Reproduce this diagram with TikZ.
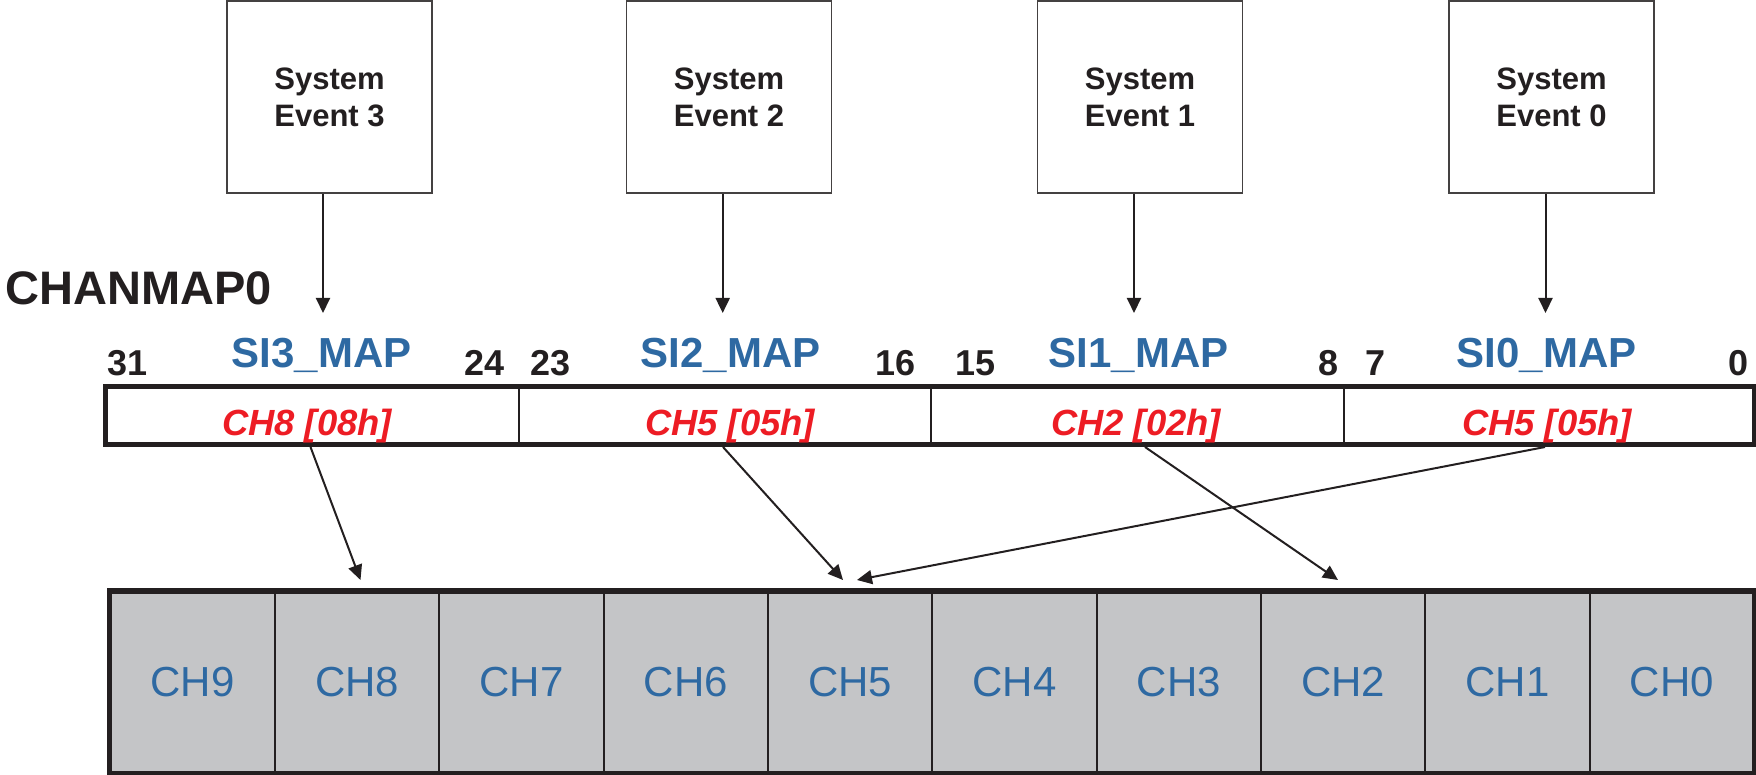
\documentclass[tikz,border=0pt]{standalone}
\usepackage{fontspec}
\setmainfont{Liberation Sans}
\usetikzlibrary{arrows.meta}
\definecolor{inkblack}{RGB}{35,31,32}
\definecolor{mapblue}{RGB}{46,105,162}
\definecolor{valred}{RGB}{237,28,36}
\definecolor{cellgray}{RGB}{196,197,199}

\begin{document}
\begin{tikzpicture}[x=0.5pt,y=-0.5pt,
  evbox/.style={draw=inkblack!85, line width=0.75pt, minimum width=102.5pt,
    minimum height=96pt, inner sep=0pt, align=center,
    font=\fontsize{15.5}{18.5}\selectfont\bfseries, text=inkblack},
  arr/.style={draw=inkblack, line width=1pt, -{Triangle[length=7.5pt,width=7pt]}},
  fieldname/.style={anchor=base, inner sep=0pt, text=mapblue,
    font=\fontsize{21}{21}\selectfont\bfseries},
  bitnum/.style={inner sep=0pt, text=inkblack, font=\fontsize{18}{18}\selectfont\bfseries},
  fieldval/.style={anchor=base, inner sep=0pt, text=valred,
    font=\fontsize{18.2}{18.2}\selectfont\bfseries\itshape},
  field/.style={draw=inkblack, line width=1pt, fill=white, minimum height=28pt, inner sep=0pt},
  chcell/.style={draw=inkblack, line width=1pt, fill=cellgray, minimum width=82.175pt,
    minimum height=90.25pt, inner sep=0pt, text=mapblue, font=\fontsize{21}{21}\selectfont},
]
\useasboundingbox (0,0) rectangle (1756,775);

% system event sources
\node[evbox] (ev3) at (329.5,97) {System\\Event 3};
\node[evbox] (ev2) at (729,97)   {System\\Event 2};
\node[evbox] (ev1) at (1140,97)  {System\\Event 1};
\node[evbox] (ev0) at (1551.5,97)  {System\\Event 0};

% register title
\node[anchor=base west, inner sep=0pt, text=inkblack,
  font=\fontsize{23.5}{23.5}\selectfont\bfseries] (title) at (5,305) {CHANMAP0};

% arrow tips above the field names
\coordinate (t3) at (323,313);
\coordinate (t2) at (722.7,313);
\coordinate (t1) at (1134,313);
\coordinate (t0) at (1545.5,313);
\foreach \i in {0,...,3} { \draw[arr] (ev\i.south -| t\i) -- (t\i); }

% field names
\node[fieldname] (n3) at (321.5,367)  {SI3\_MAP};
\node[fieldname] (n2) at (730.5,367)  {SI2\_MAP};
\node[fieldname] (n1) at (1138.5,367) {SI1\_MAP};
\node[fieldname] (n0) at (1546.5,367) {SI0\_MAP};

% bit positions
\node[bitnum, anchor=base west] (b31) at (107,375)  {31};
\node[bitnum, anchor=base east] (b24) at (505,375)  {24};
\node[bitnum, anchor=base west] (b23) at (530,375)  {23};
\node[bitnum, anchor=base east] (b16) at (916,375)  {16};
\node[bitnum, anchor=base west] (b15) at (955,375)  {15};
\node[bitnum, anchor=base east] (b8)  at (1339,375) {8};
\node[bitnum, anchor=base west] (b7)  at (1365,375) {7};
\node[bitnum, anchor=base east] (b0)  at (1749,375) {0};

% register fields
\node[field, minimum width=206.25pt] (f3) at (312.75,415.5) {};
\node[field, minimum width=206pt]    (f2) at (725,415.5)    {};
\node[field, minimum width=206.5pt]  (f1) at (1137.5,415.5) {};
\node[field, minimum width=204.75pt] (f0) at (1548.75,415.5) {};
\draw[inkblack, line width=2.8pt] (f3.north west) rectangle (f0.south east);

% field values
\node[fieldval] (v3) at (307,435)  {CH8 [08h]};
\node[fieldval] (v2) at (730,435)  {CH5 [05h]};
\node[fieldval] (v1) at (1136,435) {CH2 [02h]};
\node[fieldval] (v0) at (1547,435) {CH5 [05h]};

% channel row
\foreach \k in {0,...,9} {
  \node[chcell] (ch\k) at ({1754-164.35*(\k+0.5)},682.25) {CH\k};
}
\draw[inkblack, line width=2.8pt] (ch9.north west) rectangle (ch0.south east);

% mapping connectors
\coordinate (s3) at (310.5,447);
\coordinate (s2) at (723,447);
\coordinate (s1) at (1145,447);
\coordinate (s0) at (1545,447);
\coordinate (e3) at (360.5,580);
\coordinate (e2) at (843,580);
\coordinate (e1) at (1338,580);
\coordinate (e0) at (857,580);
\foreach \i in {0,...,3} { \draw[arr] (s\i) -- (e\i); }
\end{tikzpicture}
\end{document}
